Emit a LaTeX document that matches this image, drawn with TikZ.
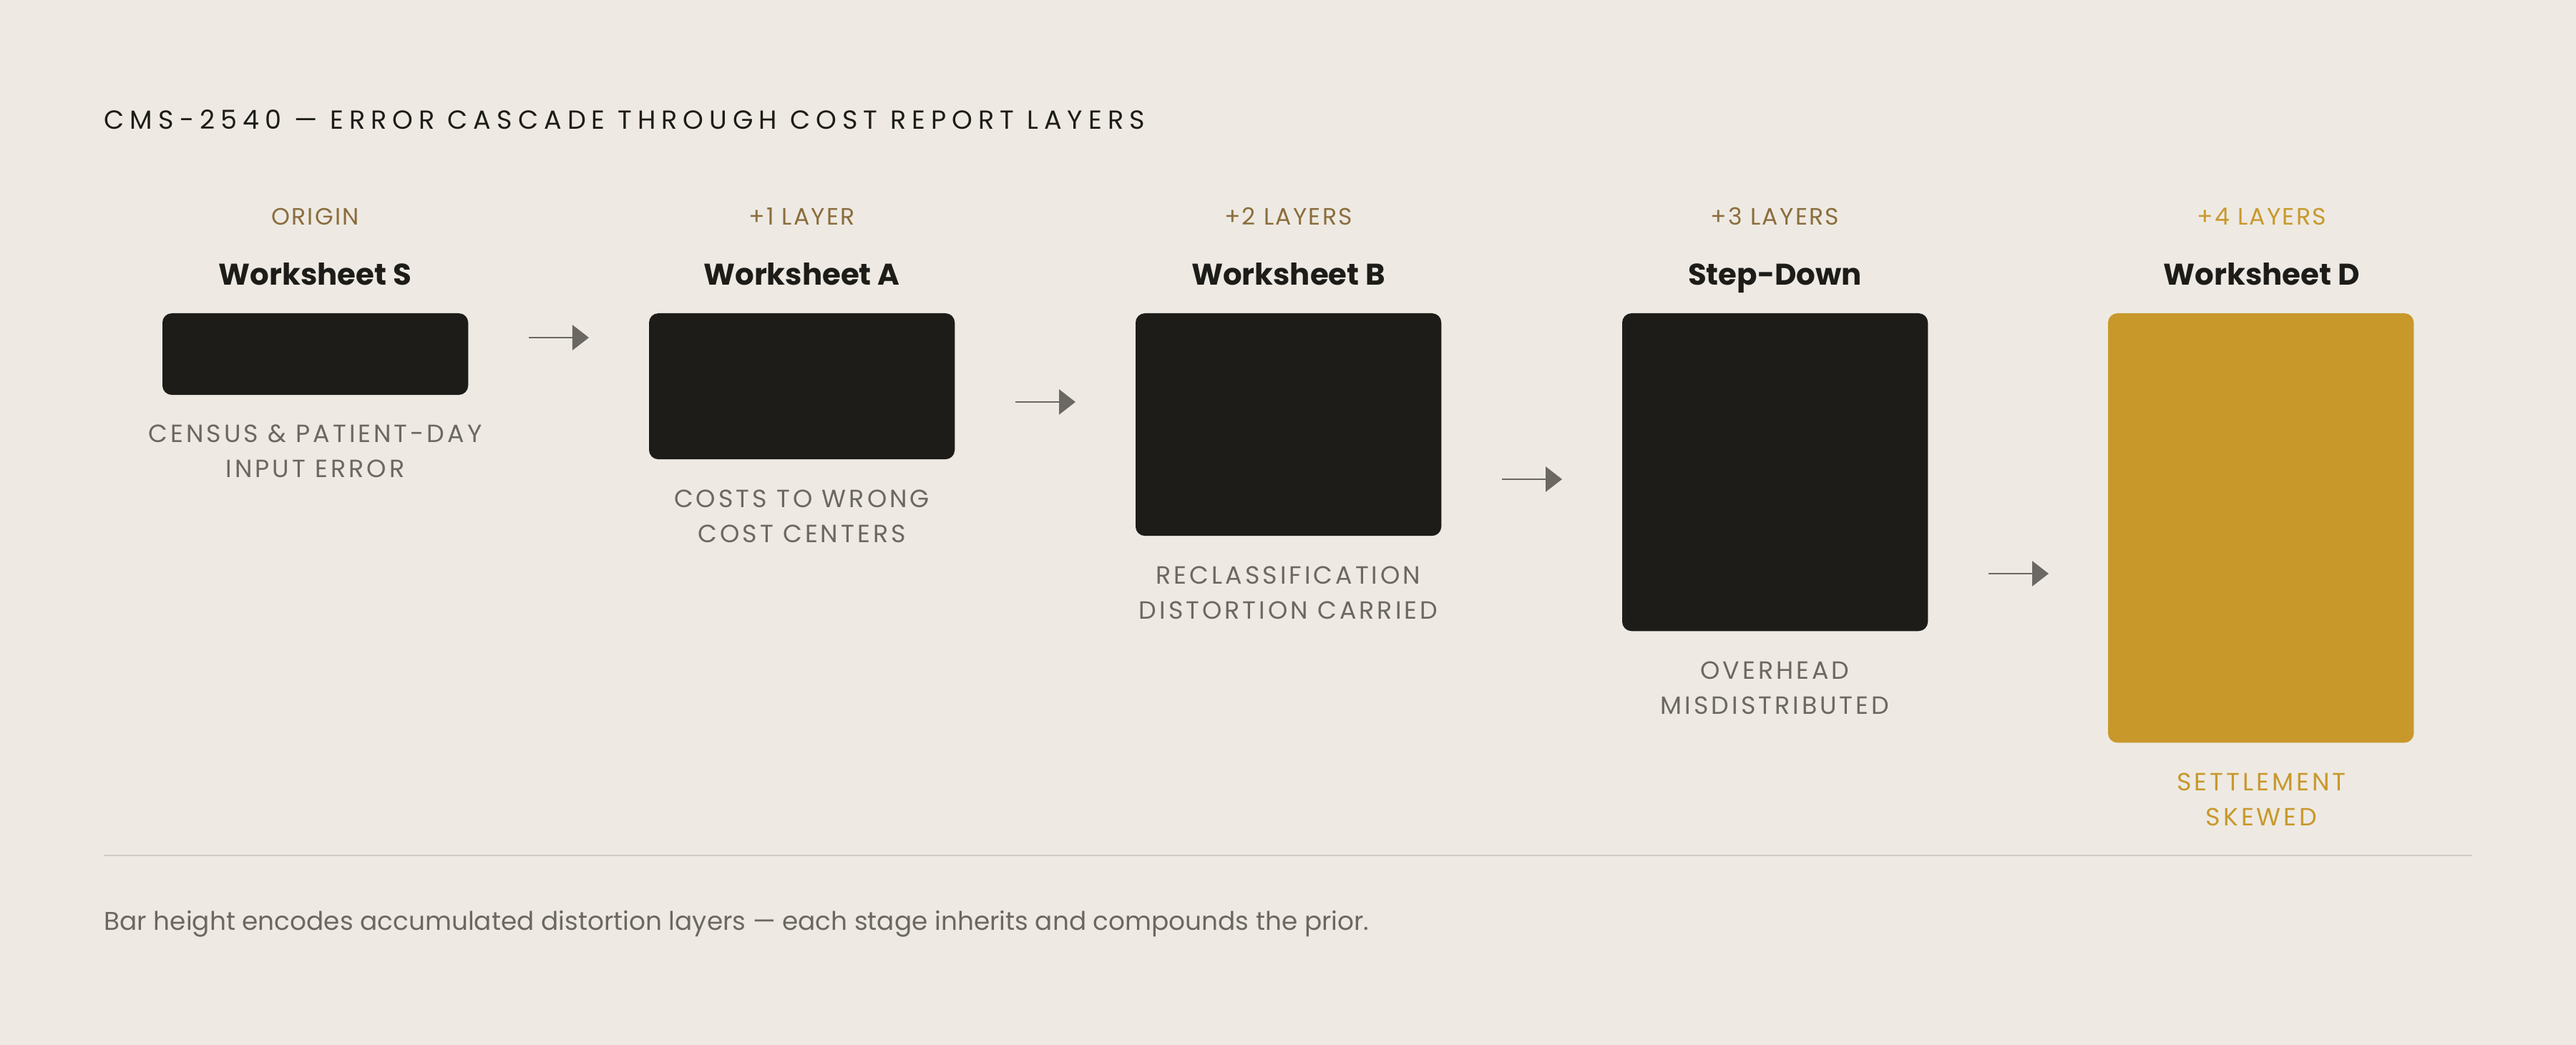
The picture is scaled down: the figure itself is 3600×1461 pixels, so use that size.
\documentclass[tikz,border=0pt]{standalone}
\usepackage{fontspec}
\usetikzlibrary{arrows.meta}
\setmainfont{Poppins}
\newfontfamily\titlefam[LetterSpace=22]{Poppins}
\newfontfamily\layerfam[LetterSpace=7]{Poppins}
\newfontfamily\capfam[LetterSpace=11.5]{Poppins}
\newfontfamily\plainfam{Poppins}
\definecolor{bg}{HTML}{EEEAE3}
\definecolor{ink}{HTML}{1D1C18}
\definecolor{barblack}{HTML}{1D1C18}
\definecolor{gold}{HTML}{C8982B}
\definecolor{labelbrown}{HTML}{8B6D3E}
\definecolor{capgray}{HTML}{6B6862}
\definecolor{arrowgray}{HTML}{6B6863}
\definecolor{rulegray}{HTML}{D1CCC4}
\tikzset{
  bar/.style={rectangle, rounded corners=0.13cm, inner sep=0pt, outer sep=0pt,
    minimum width=4.27cm, fill=barblack, draw=none, anchor=north west},
  layerlbl/.style={anchor=base, inner sep=0pt, text=labelbrown,
    font={\layerfam\fontsize{9.4pt}{11pt}\selectfont}},
  heading/.style={anchor=base, inner sep=0pt, text=ink,
    font={\plainfam\bfseries\fontsize{11.9pt}{14pt}\selectfont}},
  caption/.style={anchor=base, inner sep=0pt, text=capgray,
    font={\capfam\fontsize{9.9pt}{12pt}\selectfont}},
  arr/.style={draw=arrowgray, line width=0.77pt,
    -{Triangle[length=0.23cm,width=0.35cm]}},
}
\begin{document}
\begin{tikzpicture}[x=0.01cm,y=-0.01cm]
\useasboundingbox (0,0) rectangle (3600,1461);
\fill[bg] (0,0) rectangle (3600,1461);
% title
\node[anchor=base west, inner sep=0pt, text=ink,
  font={\titlefam\fontsize{10.4pt}{12pt}\selectfont}] (title) at (145,181)
  {CMS-2540 — ERROR CASCADE THROUGH COST REPORT LAYERS};
% layer labels
\node[layerlbl] (l1) at (440.5,315) {ORIGIN};
\node[layerlbl] (l2) at (1120.5,315) {+1 LAYER};
\node[layerlbl] (l3) at (1800.5,315) {+2 LAYERS};
\node[layerlbl] (l4) at (2480.5,315) {+3 LAYERS};
\node[layerlbl, text=gold] (l5) at (3160.5,315) {+4 LAYERS};
% headings
\node[heading] (h1) at (440.5,399) {Worksheet S};
\node[heading] (h2) at (1120.5,399) {Worksheet A};
\node[heading] (h3) at (1800.5,399) {Worksheet B};
\node[heading] (h4) at (2480.5,399) {Step-Down};
\node[heading] (h5) at (3160.5,399) {Worksheet D};
% bars
\node[bar, minimum height=1.14cm] (b1) at (227,438) {};
\node[bar, minimum height=2.04cm] (b2) at (907,438) {};
\node[bar, minimum height=3.11cm] (b3) at (1587,438) {};
\node[bar, minimum height=4.44cm] (b4) at (2267,438) {};
\node[bar, minimum height=6.00cm, fill=gold] (b5) at (2946,438) {};
% captions
\node[caption] (c1a) at (440.5,618) {CENSUS \& PATIENT-DAY};
\node[caption] (c1b) at (440.5,667) {INPUT ERROR};
\node[caption] (c2a) at (1120.5,709) {COSTS TO WRONG};
\node[caption] (c2b) at (1120.5,758) {COST CENTERS};
\node[caption] (c3a) at (1800.5,816) {RECLASSIFICATION};
\node[caption] (c3b) at (1800.5,865) {DISTORTION CARRIED};
\node[caption] (c4a) at (2480.5,949) {OVERHEAD};
\node[caption] (c4b) at (2480.5,998) {MISDISTRIBUTED};
\node[caption, text=gold] (c5a) at (3160.5,1105) {SETTLEMENT};
\node[caption, text=gold] (c5b) at (3160.5,1154) {SKEWED};
% arrows
\coordinate (a1s) at (739,472);  \coordinate (a1e) at (823,472);
\coordinate (a2s) at (1419,562); \coordinate (a2e) at (1503,562);
\coordinate (a3s) at (2099,670); \coordinate (a3e) at (2183,670);
\coordinate (a4s) at (2779,802); \coordinate (a4e) at (2863,802);
\draw[arr] (a1s) -- (a1e);
\draw[arr] (a2s) -- (a2e);
\draw[arr] (a3s) -- (a3e);
\draw[arr] (a4s) -- (a4e);
% rule
\coordinate (r1) at (145,1196); \coordinate (r2) at (3455,1196);
\draw[rulegray, line width=0.7pt] (r1) -- (r2);
% footer
\node[anchor=base west, inner sep=0pt, text=capgray,
  font={\plainfam\fontsize{10.2pt}{12pt}\selectfont}] (foot) at (145,1300)
  {Bar height encodes accumulated distortion layers — each stage inherits and compounds the prior.};
\end{tikzpicture}
\end{document}
